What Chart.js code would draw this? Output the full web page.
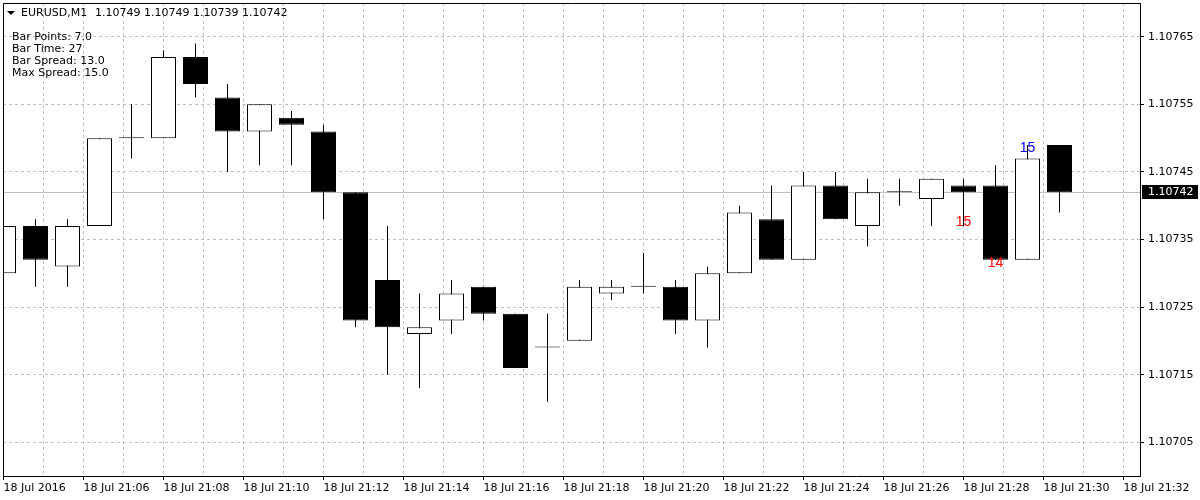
<!DOCTYPE html>
<html>
<head>
<meta charset="utf-8">
<script src="https://cdn.jsdelivr.net/npm/chart.js@4.4.1/dist/chart.umd.min.js"></script>
<style>
html,body{margin:0;padding:0;background:#ffffff;}
#wrap{width:1200px;height:500px;position:relative;}
</style>
</head>
<body>
<div id="wrap"><canvas id="c" width="1200" height="500"></canvas></div>
<script>
// ---------- data ----------
const symbolTitle = 'EURUSD,M1';
const opens  = [1.10730,1.10737,1.10731,1.10737,1.10750,1.10750,1.10762,1.10756,1.10751,1.10753,
                1.10751,1.10742,1.10729,1.10721,1.10723,1.10728,1.10724,1.10719,1.10720,1.10727,
                1.10728,1.10728,1.10723,1.10730,1.10738,1.10732,1.10743,1.10737,1.10742,1.10741,
                1.10743,1.10743,1.10732,1.10749];
const highs  = [1.10738,1.10738,1.10738,1.10750,1.10755,1.10763,1.10764,1.10758,1.10755,1.10754,
                1.10752,1.10742,1.10737,1.10727,1.10729,1.10728,1.10724,1.10724,1.10729,1.10729,
                1.10733,1.10729,1.10731,1.10740,1.10743,1.10745,1.10745,1.10744,1.10744,1.10744,
                1.10744,1.10746,1.10749,1.10749];
const lows   = [1.10729,1.10728,1.10728,1.10737,1.10747,1.10750,1.10756,1.10745,1.10746,1.10746,
                1.10738,1.10722,1.10715,1.10713,1.10721,1.10723,1.10716,1.10711,1.10720,1.10726,
                1.10727,1.10721,1.10719,1.10730,1.10732,1.10732,1.10738,1.10734,1.10740,1.10737,
                1.10737,1.10732,1.10732,1.10739];
const closes = [1.10737,1.10732,1.10737,1.10750,1.10750,1.10762,1.10758,1.10751,1.10755,1.10752,
                1.10742,1.10723,1.10722,1.10722,1.10727,1.10724,1.10716,1.10719,1.10728,1.10728,
                1.10728,1.10723,1.10730,1.10739,1.10732,1.10743,1.10738,1.10742,1.10742,1.10744,
                1.10742,1.10732,1.10747,1.10742];
const xTickLabels = ['18 Jul 2016','18 Jul 21:06','18 Jul 21:08','18 Jul 21:10','18 Jul 21:12',
                     '18 Jul 21:14','18 Jul 21:16','18 Jul 21:18','18 Jul 21:20','18 Jul 21:22',
                     '18 Jul 21:24','18 Jul 21:26','18 Jul 21:28','18 Jul 21:30','18 Jul 21:32'];
const yTicks = [1.10705,1.10715,1.10725,1.10735,1.10745,1.10755,1.10765];
const infoLines = ['Bar Points: 7.0','Bar Time: 27','Bar Spread: 13.0','Max Spread: 15.0'];
const spreadBars   = [30, 31, 32];
const spreadPrices = [1.10737, 1.10731, 1.10748];
const spreadTexts  = ['15', '14', '15'];
const spreadSides  = ['low', 'low', 'high'];

// ---------- layout constants ----------
const Y_MIN = 1.10700, Y_MAX = 1.10770;
const BAR_PX = 32;                 // pixel pitch of one bar
const X_MIN = -0.5 / BAR_PX;
const X_MAX = X_MIN + 1137 / BAR_PX;
const GRID_STEP = 1.25;            // bars per vertical grid line
const GRID_COUNT = 28;
const FONT = '"DejaVu Sans", sans-serif';

const bodyData = opens.map((o, i) => ({x: i, y: [o, closes[i]]}));
const wickData = lows.map((l, i) => ({x: i, y: [l, highs[i]]}));
const bodyFill = opens.map((o, i) => closes[i] > o ? '#ffffff' : '#000000');

const overlay = {
  id: 'overlay',
  beforeDatasetsDraw(chart) {
    const {ctx, chartArea: a, scales: {y}} = chart;
    const last = closes[closes.length - 1];
    const py = Math.round(y.getPixelForValue(last) - 0.5) + 0.5;
    ctx.save();
    ctx.strokeStyle = '#c0c0c0';
    ctx.lineWidth = 1;
    ctx.beginPath();
    ctx.moveTo(a.left, py); ctx.lineTo(a.right, py);
    ctx.stroke();
    ctx.restore();
  },
  afterDraw(chart) {
    const {ctx, chartArea: a, scales: {x, y}} = chart;
    ctx.save();
    // top / left frame
    ctx.strokeStyle = '#000';
    ctx.lineWidth = 1;
    ctx.beginPath();
    ctx.moveTo(a.left + 0.5, a.bottom); ctx.lineTo(a.left + 0.5, a.top + 0.5); ctx.lineTo(a.right, a.top + 0.5);
    ctx.stroke();

    // title
    ctx.fillStyle = '#000';
    ctx.beginPath();
    ctx.moveTo(7, 11); ctx.lineTo(15, 11); ctx.lineTo(11, 15); ctx.closePath();
    ctx.fill();
    ctx.font = '11px ' + FONT;
    ctx.textBaseline = 'middle';
    ctx.textAlign = 'left';
    const n = closes.length - 1;
    const ohlc = [opens[n], highs[n], lows[n], closes[n]].map(v => v.toFixed(5)).join(' ');
    ctx.fillText(symbolTitle, 21, 13);
    ctx.fillText(ohlc, 95, 13);

    // info lines
    infoLines.forEach((t, k) => ctx.fillText(t, 12, 37 + k * 12.2));

    // spread labels
    ctx.font = '14px "Liberation Sans", Arial, sans-serif';
    ctx.textAlign = 'center';
    ctx.textBaseline = 'alphabetic';
    spreadBars.forEach((b, k) => {
      ctx.fillStyle = spreadSides[k] === 'high' ? '#0000ff' : '#ff0000';
      ctx.fillText(spreadTexts[k], x.getPixelForValue(b), y.getPixelForValue(spreadPrices[k]));
    });

    // current price box
    const last = closes[n];
    const py = y.getPixelForValue(last);
    ctx.fillStyle = '#000';
    ctx.fillRect(a.right + 2, Math.round(py) - 7, 56, 14);
    ctx.fillStyle = '#fff';
    ctx.font = '11px ' + FONT;
    ctx.textAlign = 'left';
    ctx.textBaseline = 'middle';
    ctx.fillText(last.toFixed(5), a.right + 8, Math.round(py));
    ctx.restore();
  }
};

new Chart(document.getElementById('c'), {
  type: 'bar',
  data: {
    datasets: [
      {
        label: 'body', data: bodyData,
        backgroundColor: bodyFill, borderColor: '#000', borderWidth: 1,
        borderSkipped: false, barThickness: 25, minBarLength: 1,
        grouped: false, inflateAmount: 0, order: 0, clip: 0
      },
      {
        label: 'wick', data: wickData,
        backgroundColor: '#000', borderWidth: 0, borderSkipped: false,
        barThickness: 1, grouped: false, inflateAmount: 0, order: 1, clip: 0
      }
    ]
  },
  options: {
    responsive: false,
    animation: false,
    events: [],
    layout: {padding: {left: 3, top: 3, right: 0, bottom: 0}},
    plugins: {legend: {display: false}, tooltip: {enabled: false}, title: {display: false}},
    scales: {
      x: {
        type: 'linear', min: X_MIN, max: X_MAX, offset: false,
        afterBuildTicks: s => {
          const t = [];
          for (let k = 0; k <= GRID_COUNT; k++) t.push({value: k * GRID_STEP});
          s.ticks = t;
        },
        ticks: {
          autoSkip: false, maxRotation: 0, minRotation: 0, align: 'start', padding: 2,
          color: '#000', font: {family: FONT, size: 11},
          callback: (v, i) => (i % 2 === 0 ? xTickLabels[i / 2] : '')
        },
        grid: {
          offset: false, color: '#c0c0c0', lineWidth: 1, drawTicks: true, tickLength: 4,
          tickColor: c => (c.index % 2 === 0 ? '#000' : 'rgba(0,0,0,0)')
        },
        border: {display: true, color: '#000', width: 1, dash: [3, 3]},
        afterFit: s => { s.height = 24; s.paddingLeft = 0; s.paddingRight = 0; }
      },
      y: {
        type: 'linear', position: 'right', min: Y_MIN, max: Y_MAX, beginAtZero: false,
        afterBuildTicks: s => { s.ticks = yTicks.map(v => ({value: v})); },
        ticks: {
          padding: 4, color: '#000', font: {family: FONT, size: 11},
          callback: v => Number(v).toFixed(5)
        },
        grid: {color: '#c0c0c0', lineWidth: 1, tickLength: 4, tickColor: '#000'},
        border: {display: true, color: '#000', width: 1, dash: [3, 3]},
        afterFit: s => { s.width = 60; s.paddingTop = 0; s.paddingBottom = 0; }
      }
    }
  },
  plugins: [overlay]
});
</script>
</body>
</html>
